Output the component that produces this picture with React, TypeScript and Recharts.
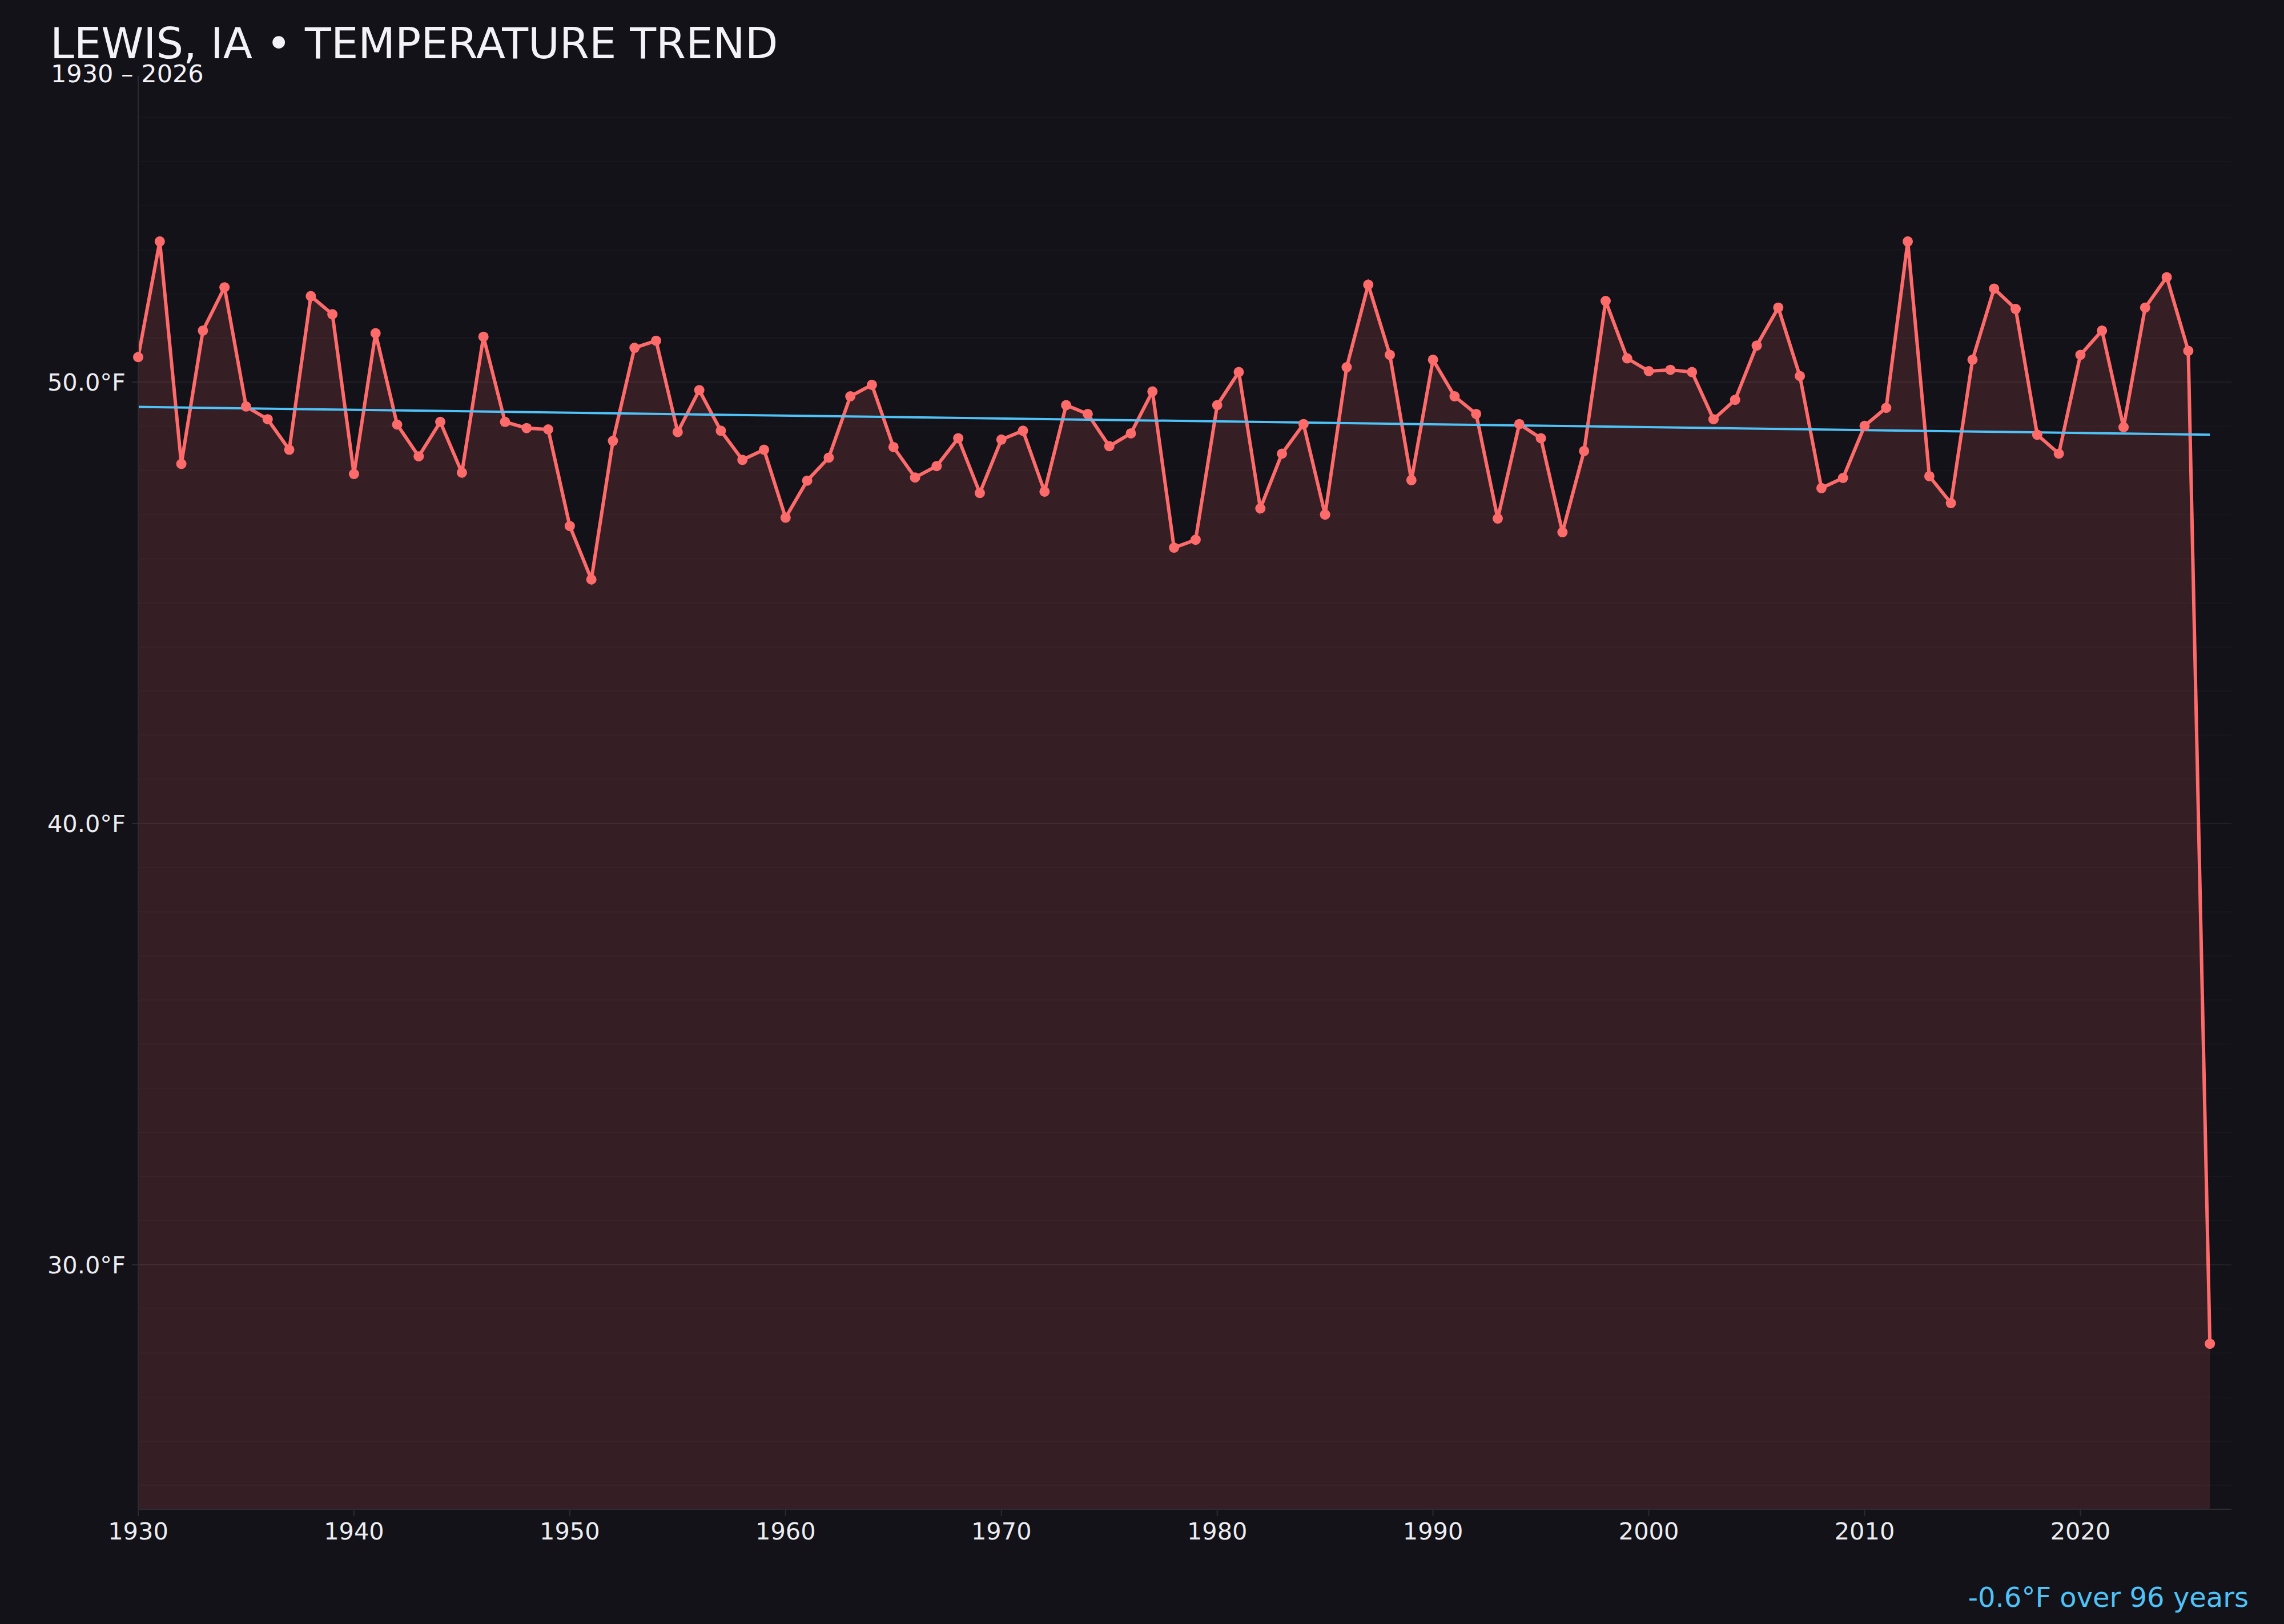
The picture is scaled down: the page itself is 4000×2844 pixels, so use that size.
import React from "react";
import { ComposedChart, Area, Line, XAxis, YAxis, ReferenceLine } from "recharts";

const years = [
  1930, 1931, 1932, 1933, 1934, 1935, 1936, 1937, 1938, 1939,
  1940, 1941, 1942, 1943, 1944, 1945, 1946, 1947, 1948, 1949,
  1950, 1951, 1952, 1953, 1954, 1955, 1956, 1957, 1958, 1959,
  1960, 1961, 1962, 1963, 1964, 1965, 1966, 1967, 1968, 1969,
  1970, 1971, 1972, 1973, 1974, 1975, 1976, 1977, 1978, 1979,
  1980, 1981, 1982, 1983, 1984, 1985, 1986, 1987, 1988, 1989,
  1990, 1991, 1992, 1993, 1994, 1995, 1996, 1997, 1998, 1999,
  2000, 2001, 2002, 2003, 2004, 2005, 2006, 2007, 2008, 2009,
  2010, 2011, 2012, 2013, 2014, 2015, 2016, 2017, 2018, 2019,
  2020, 2021, 2022, 2023, 2024, 2025, 2026,
];

const temps = [
  50.57, 53.19, 48.15, 51.17, 52.15, 49.45, 49.16, 48.47, 51.95, 51.54,
  47.92, 51.11, 49.04, 48.32, 49.1, 47.95, 51.03, 49.1, 48.96, 48.93,
  46.74, 45.53, 48.67, 50.78, 50.94, 48.87, 49.82, 48.9, 48.24, 48.47,
  46.93, 47.77, 48.29, 49.68, 49.94, 48.53, 47.84, 48.1, 48.73, 47.49,
  48.7, 48.9, 47.52, 49.48, 49.28, 48.55, 48.84, 49.79, 46.25, 46.43,
  49.48, 50.23, 47.14, 48.38, 49.05, 47.0, 50.34, 52.21, 50.62, 47.78,
  50.51, 49.68, 49.28, 46.91, 49.05, 48.73, 46.6, 48.44, 51.84, 50.54,
  50.25, 50.28, 50.23, 49.16, 49.6, 50.83, 51.69, 50.14, 47.6, 47.83,
  49.01, 49.42, 53.19, 47.87, 47.26, 50.51, 52.12, 51.66, 48.81, 48.38,
  50.62, 51.17, 48.98, 51.69, 52.38, 50.71, 28.21,
];

const trendYears = [1930, 2026];
const trendValues = [49.44, 48.81];

const xTicks = [1930, 1940, 1950, 1960, 1970, 1980, 1990, 2000, 2010, 2020];
const yTicks = [30, 40, 50];
const minorGrid = [
  25, 26, 27, 28, 29, 31, 32, 33, 34, 35, 36, 37, 38, 39,
  41, 42, 43, 44, 45, 46, 47, 48, 49, 51, 52, 53, 54, 55, 56,
];

const TITLE = "LEWIS, IA • TEMPERATURE TREND";
const SUBTITLE = "1930 – 2026";
const TREND_NOTE = "-0.6°F over 96 years";

const data = years.map((y, i) => {
  const ti = trendYears.indexOf(y);
  return { year: y, temp: temps[i], trend: ti >= 0 ? trendValues[ti] : null };
});

const BG = "#131218";
const RED = "#ff6b6b";
const BLUE = "#4fc3f7";
const TEXT = "#ececf1";
const AXIS = "#2c2b33";
const FONT = "'DejaVu Sans', sans-serif";

const renderDot = (props: any) => {
  const { cx, cy, index } = props;
  if (cx == null || cy == null) return <g key={`d-${index}`} />;
  return <circle key={`d-${index}`} cx={cx} cy={cy} r={9} fill={RED} stroke="none" />;
};

export default function App() {
  return (
    <div
      style={{
        position: "absolute",
        left: 0,
        top: 0,
        width: 4000,
        height: 2844,
        background: BG,
        fontFamily: FONT,
        overflow: "hidden",
      }}
    >
      <ComposedChart
        width={4000}
        height={2844}
        data={data}
        margin={{ top: 133, right: 92, bottom: 141, left: 0 }}
      >
        {minorGrid.map((v) => (
          <ReferenceLine
            key={`g-${v}`}
            y={v}
            stroke="rgba(255,255,255,0.022)"
            strokeWidth={2}
          />
        ))}
        {yTicks.map((v) => (
          <ReferenceLine
            key={`M-${v}`}
            y={v}
            stroke="rgba(255,255,255,0.06)"
            strokeWidth={2}
          />
        ))}
        <XAxis
          dataKey="year"
          type="number"
          domain={[1930, 2027]}
          ticks={xTicks}
          allowDecimals={false}
          height={60}
          tickSize={12}
          tickMargin={12}
          stroke={AXIS}
          strokeWidth={2}
          tick={{ fill: TEXT, fontSize: 41.5, fontFamily: FONT }}
        />
        <YAxis
          type="number"
          domain={[24.46, 56.94]}
          ticks={yTicks}
          width={242}
          tickSize={11}
          tickMargin={11}
          stroke={AXIS}
          strokeWidth={2}
          tickFormatter={(v: number) => `${v.toFixed(1)}°F`}
          tick={{ fill: TEXT, fontSize: 41.5, fontFamily: FONT }}
        />
        <Line
          dataKey="trend"
          type="linear"
          stroke={BLUE}
          strokeWidth={4}
          dot={false}
          activeDot={false}
          connectNulls
          isAnimationActive={false}
        />
        <Area
          dataKey="temp"
          type="linear"
          stroke={RED}
          strokeWidth={6}
          fill={RED}
          fillOpacity={0.15}
          dot={renderDot}
          activeDot={false}
          isAnimationActive={false}
        />
      </ComposedChart>
      <svg
        width={4000}
        height={2844}
        style={{ position: "absolute", left: 0, top: 0, pointerEvents: "none" }}
      >
        <text x={88} y={102} fill="#f3f3f7" fontSize={75} fontFamily={FONT}>
          {TITLE}
        </text>
        <text x={89} y={144} fill="#f3f3f7" fontSize={43} fontFamily={FONT}>
          {SUBTITLE}
        </text>
        <text x={3938} y={2814} fill={BLUE} fontSize={48} fontFamily={FONT} textAnchor="end">
          {TREND_NOTE}
        </text>
      </svg>
    </div>
  );
}
